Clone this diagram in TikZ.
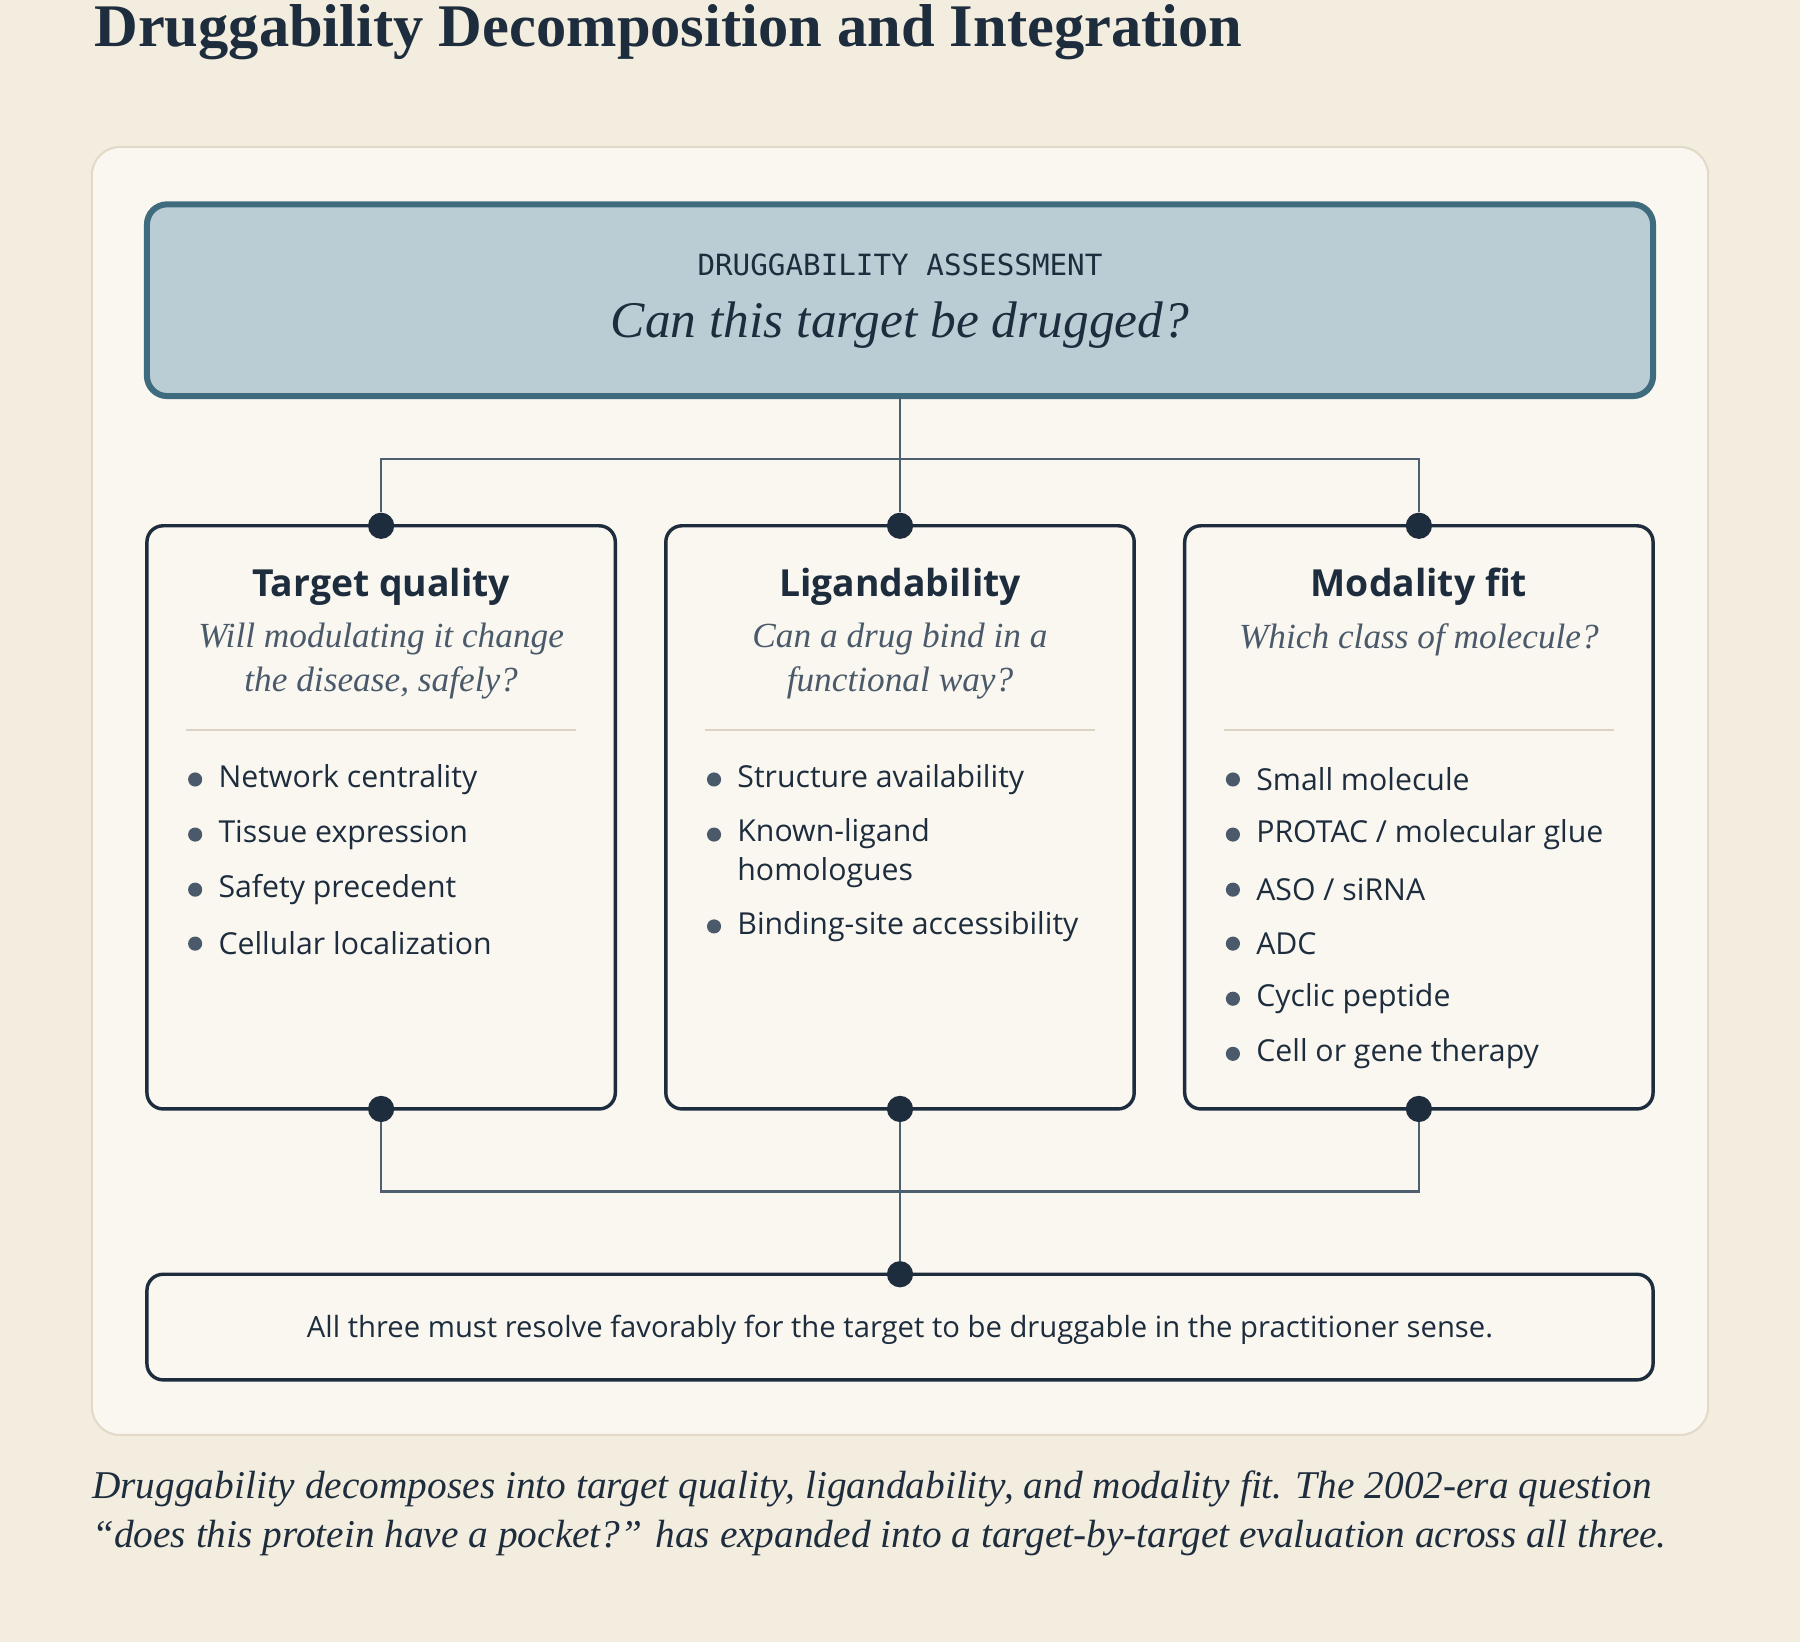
\documentclass[tikz,border=0pt]{standalone}
\usepackage{fontspec}
\setmainfont{Liberation Serif}
\setsansfont{Open Sans}
\setmonofont{DejaVu Sans Mono}
\usetikzlibrary{positioning, calc}
\definecolor{bg}{HTML}{F3EDDF}
\definecolor{panel}{HTML}{FAF7F0}
\definecolor{panelline}{HTML}{E2D9C8}
\definecolor{ink}{HTML}{1E2D3D}
\definecolor{topfill}{HTML}{BACDD5}
\definecolor{topline}{HTML}{3F6B7F}
\definecolor{subink}{HTML}{4A5A6A}
\definecolor{wire}{HTML}{4E6070}
\definecolor{sep}{HTML}{DDD3C4}
\tikzstyle{card}=[draw=ink, line width=1.7pt, fill=panel, rounded corners=8pt]
\tikzstyle{wire}=[draw=wire, line width=1.2pt]
\tikzstyle{dot}=[circle, fill=ink, inner sep=0pt, minimum size=13pt]
\tikzstyle{head}=[font=\sffamily\bfseries\fontsize{18.5}{23}\selectfont, text=ink]
\tikzstyle{sub}=[font=\itshape\fontsize{17.5}{21.5}\selectfont, text=subink, align=center]
\tikzstyle{item}=[font=\sffamily\fontsize{15}{19}\selectfont, text=ink, anchor=west, align=left, inner sep=0pt]
\tikzstyle{bullet}=[circle, fill=subink, inner sep=0pt, minimum size=7pt]
\begin{document}
\begin{tikzpicture}[x=0.02cm, y=-0.02cm]
        \useasboundingbox[fill=bg] (0,0) rectangle (1568,1430);
        % title
        \node[anchor=west, font=\bfseries\fontsize{30}{34}\selectfont, text=ink] (title) at (76,28) {Druggability Decomposition and Integration};
        % panel
        \draw[panelline, fill=panel, line width=1pt, rounded corners=14pt] (80,128) rectangle (1488,1250);
        % top box
        \draw[topline, fill=topfill, line width=3pt, rounded corners=10pt] (128,178) rectangle (1440,345);
        \coordinate (top) at (784,345);
        \node[font=\ttfamily\fontsize{14.5}{16}\selectfont, text=ink] (kicker) at (784,231) {DRUGGABILITY ASSESSMENT};
        \node[font=\itshape\fontsize{25.5}{29}\selectfont, text=ink] (question) at (784,283) {Can this target be drugged?};

        % cards
        \foreach \x in {128, 580, 1032} {
            \draw[card] (\x,458) rectangle ++(408,508);
            \draw[sep, line width=0.8pt] (\x+34,636) -- (\x+374,636);
        }
        \node[dot] (tq-top) at (332,458) {};
        \node[dot] (tq-bot) at (332,966) {};
        \node[dot] (lig-top) at (784,458) {};
        \node[dot] (lig-bot) at (784,966) {};
        \node[dot] (mod-top) at (1236,458) {};
        \node[dot] (mod-bot) at (1236,966) {};
        \node[head] (tq-head) at (332,511) {Target quality};
        \node[sub] (tq-sub) at (332,576) {Will modulating it change\\the disease, safely?};
        \node[head] (lig-head) at (784,511) {Ligandability};
        \node[sub] (lig-sub) at (784,576) {Can a drug bind in a\\functional way?};
        \node[head] (mod-head) at (1236,511) {Modality fit};
        \node[sub] (mod-sub) at (1236,557) {Which class of molecule?};

        \foreach \y/\t in {679/Network centrality, 727/Tissue expression, 775/Safety precedent, 822/Cellular localization} {
            \node[bullet] at (170,\y) {};
            \node[item] at (190,\y) {\t};
        }
        \foreach \y/\t in {679/Structure availability, 807/Binding-site accessibility} {
            \node[bullet] at (622,\y) {};
            \node[item] at (642,\y) {\t};
        }
        \node[bullet] at (622,727) {};
        \node[item, anchor=north west] at (642,713) {Known-ligand\\homologues};
        \foreach \y/\t in {679/{Small molecule}, 727/{PROTAC / molecular glue}, 775/{ASO / siRNA}, 822/{ADC}, 870/{Cyclic peptide}, 918/{Cell or gene therapy}} {
            \node[bullet] at (1074,\y) {};
            \node[item] at (1094,\y) {\t};
        }

        % wiring
        \draw[wire] (top) -- (lig-top);
        \draw[wire] (tq-top) |- (784,400) -| (mod-top);
        \draw[wire] (tq-bot) |- (784,1038) -| (mod-bot);

        % bottom box
        \draw[card] (128,1110) rectangle (1440,1202);
        \node[dot] (end) at (784,1110) {};
        \draw[wire] (lig-bot) -- (end);
        \node[font=\sffamily\fontsize{14.5}{18}\selectfont, text=ink] (verdict) at (784,1158) {All three must resolve favorably for the target to be druggable in the practitioner sense.};

        % caption
        \node[anchor=north west, align=left, inner sep=0pt, font=\itshape\fontsize{19.5}{24}\selectfont, text=ink] (caption) at (80,1281) {Druggability decomposes into target quality, ligandability, and modality fit. The 2002-era question\\“does this protein have a pocket?” has expanded into a target-by-target evaluation across all three.};
\end{tikzpicture}
\end{document}
